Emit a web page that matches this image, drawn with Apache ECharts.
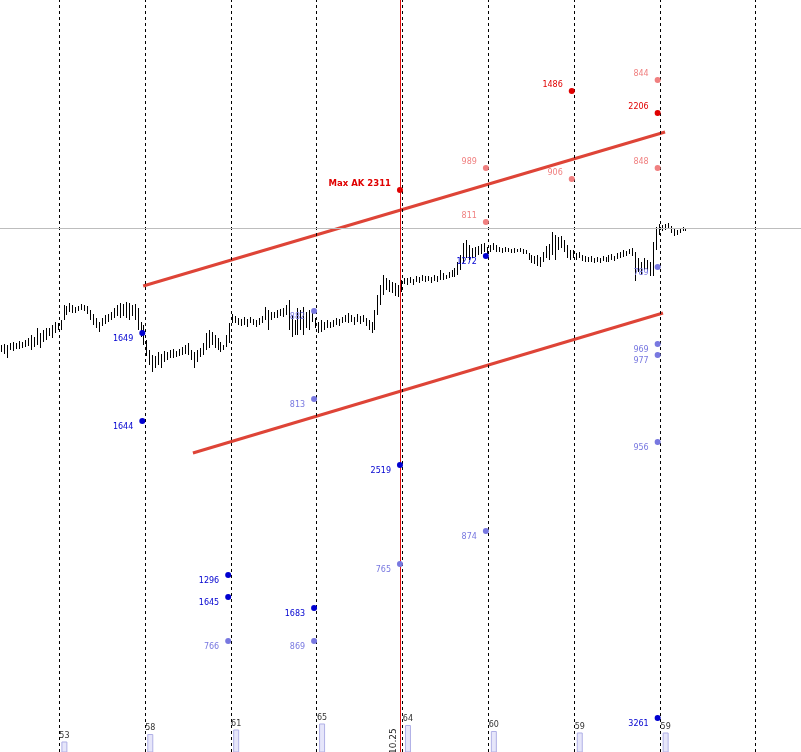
<!DOCTYPE html>
<html>
<head>
<meta charset="utf-8">
<script src="https://cdn.jsdelivr.net/npm/echarts@6/dist/echarts.min.js"></script>
<style>
  html, body { margin: 0; padding: 0; background: #fff; }
  #chart { width: 801px; height: 752px; }
</style>
</head>
<body>
<div id="chart"></div>
<script>
// price bars, one per period (high / low)
const barHigh = [
  655,656,655,657,658,657,659,658,660,662,
  665,663,672,667,670,672,672,675,678,677,
  680,695,694,697,695,693,694,696,695,694,
  690,686,682,678,682,685,686,688,692,695,
  697,696,698,697,695,696,692,678,675,660,
  650,645,644,648,646,649,648,650,651,649,
  651,653,655,657,650,648,650,652,657,667,
  670,668,665,662,658,655,665,677,686,684,
  682,681,683,681,683,681,680,682,684,693,
  690,688,688,690,691,692,695,700,685,680,
  692,690,693,688,690,690,682,678,680,678,
  680,678,680,682,681,683,685,687,685,683,
  686,684,685,682,680,678,690,705,715,725,
  722,720,718,717,715,720,722,722,723,721,
  724,723,725,724,724,723,725,724,730,727,
  725,728,730,732,738,745,757,760,755,752,
  753,754,756,757,753,755,757,755,753,752,
  753,752,751,752,751,752,751,750,747,745,
  744,745,743,748,754,756,768,765,763,764,
  760,755,750,750,747,748,745,744,743,744,
  742,743,742,744,743,745,746,744,747,748,
  750,749,751,752,748,742,738,742,740,738,
  758,773,776,775,776,777,774,772,770,772,
  773,772
];
const barLow = [
  648,646,642,650,649,651,651,652,653,654,
  650,653,655,652,658,660,664,662,667,670,
  670,680,685,688,687,687,689,690,689,686,
  680,675,672,668,674,676,678,680,682,684,
  682,684,682,680,684,680,670,663,655,644,
  635,628,632,635,632,638,640,642,642,643,
  644,645,646,645,640,632,638,643,645,650,
  652,655,652,650,648,650,653,657,677,677,
  675,674,675,673,677,675,673,675,677,680,
  670,680,682,682,684,683,685,670,663,665,
  665,670,665,672,670,678,672,667,668,670,
  672,672,673,675,674,677,678,677,678,675,
  678,676,678,674,670,667,670,685,695,705,
  710,708,707,704,703,708,716,715,717,715,
  718,717,719,718,719,717,719,718,720,720,
  721,722,723,723,725,730,737,742,740,742,
  743,745,746,748,744,748,750,748,748,747,
  748,748,747,747,748,748,746,746,740,737,
  736,734,733,738,742,740,745,740,750,752,
  748,742,740,742,740,742,739,738,738,738,
  737,738,737,739,738,738,740,739,741,742,
  743,744,746,744,719,728,725,730,728,724,
  724,750,765,769,770,771,767,764,765,767,
  769,769
];

// session separators (bar index) and session volumes
const dividers = [19.5, 48.5, 77.5, 106.5, 135.5, 164.5, 193.5, 222.5, 254.5];
const volumes = [53, 58, 61, 65, 64, 60, 59, 59];

// level dots: [session, price, label]
const darkRed = [[4, 810, "Max AK 2311"], [6, 909, "1486"], [7, 887, "2206"]];
const lightRed = [[7, 920, "844"], [5, 832, "989"], [6, 821, "906"], [7, 832, "848"], [5, 778, "811"]];
const darkBlue = [[1, 667, "1649"], [1, 579, "1644"], [5, 744, "1272"], [4, 535, "2519"],
  [2, 425, "1296"], [2, 403, "1645"], [3, 392, "1683"], [7, 282, "3261"]];
const lightBlue = [[3, 689, "882"], [3, 601, "813"], [7, 733, "789"], [7, 656, "969"],
  [7, 645, "977"], [7, 558, "956"], [5, 469, "874"], [4, 436, "765"], [2, 359, "766"], [3, 359, "869"]];

// channel lines
const upperChannel = [[47.9, 714], [224.1, 868]];
const lowerChannel = [[64.7, 547], [223.4, 687]];

const lastPrice = 772;
const dateMarker = 134.6;
const dateLabel = "10.25";

const FONT = 'Tahoma, "DejaVu Sans", sans-serif';

const chart = echarts.init(document.getElementById("chart"));

const dotSeries = (list, color, above) => ({
  type: "scatter",
  symbolSize: 6,
  z: 5,
  itemStyle: { color: color, opacity: 1 },
  label: {
    show: true,
    position: "left",
    distance: 6,
    offset: [0, above ? -6 : 6],
    formatter: "{b}",
    color: color,
    fontSize: 8,
    fontFamily: FONT,
  },
  data: list.map((d) => {
    const item = { name: d[2], value: [dividers[d[0]] - 0.9, d[1]] };
    if (d[2].indexOf("Max") === 0) {
      item.label = { fontWeight: "bold", fontSize: 8.5 };
    }
    return item;
  }),
});

const channelSeries = (pts) => ({
  type: "line",
  showSymbol: false,
  z: 4,
  lineStyle: { color: "#de4437", width: 3 },
  data: pts,
});

const option = {
  animation: false,
  grid: { left: 0, right: 0, top: 0, bottom: 0 },
  xAxis: { type: "value", min: -0.44, max: 270, show: false },
  yAxis: [
    { type: "value", min: 248, max: 1000, show: false },
    { type: "value", min: 46, max: 547.3, show: false },
  ],
  series: [
    {
      type: "custom",
      z: 3,
      renderItem: (params, api) => {
        const top = api.coord([api.value(0), api.value(1)]);
        const bot = api.coord([api.value(0), api.value(2)]);
        const x = Math.round(top[0]) + 0.5;
        return {
          type: "line",
          shape: { x1: x, y1: top[1], x2: x, y2: bot[1] },
          style: { stroke: "#000", lineWidth: 1 },
        };
      },
      data: barHigh.map((h, i) => [i, h, barLow[i]]),
      markLine: {
        silent: true,
        symbol: "none",
        animation: false,
        data: [
          ...dividers.map((d) => ({
            xAxis: d,
            lineStyle: { color: "#000", type: [3, 3], width: 1 },
            label: { show: false },
          })),
          {
            yAxis: lastPrice,
            lineStyle: { color: "#bdbdbd", type: "solid", width: 1 },
            label: { show: false },
          },
          {
            xAxis: dateMarker,
            lineStyle: { color: "#e01010", type: "solid", width: 1 },
            label: {
              show: true,
              formatter: dateLabel,
              position: "insideStartTop",
              distance: [-2, 2],
              color: "#222",
              fontSize: 9,
              fontFamily: FONT,
            },
          },
        ],
      },
    },
    channelSeries(upperChannel),
    channelSeries(lowerChannel),
    dotSeries(lightRed, "#f08080", true),
    dotSeries(darkRed, "#e00000", true),
    dotSeries(lightBlue, "#7878e0", false),
    dotSeries(darkBlue, "#0000d0", false),
    {
      type: "bar",
      yAxisIndex: 1,
      barWidth: 6,
      z: 2,
      itemStyle: { color: "#e6e6fa", borderColor: "#b0b0e6", borderWidth: 1 },
      label: {
        show: true,
        position: "top",
        distance: 2,
        color: "#333",
        fontSize: 8,
        fontFamily: FONT,
      },
      data: volumes.map((v, k) => [dividers[k] + 1.8, v]),
    },
  ],
};

chart.setOption(option);
</script>
</body>
</html>
